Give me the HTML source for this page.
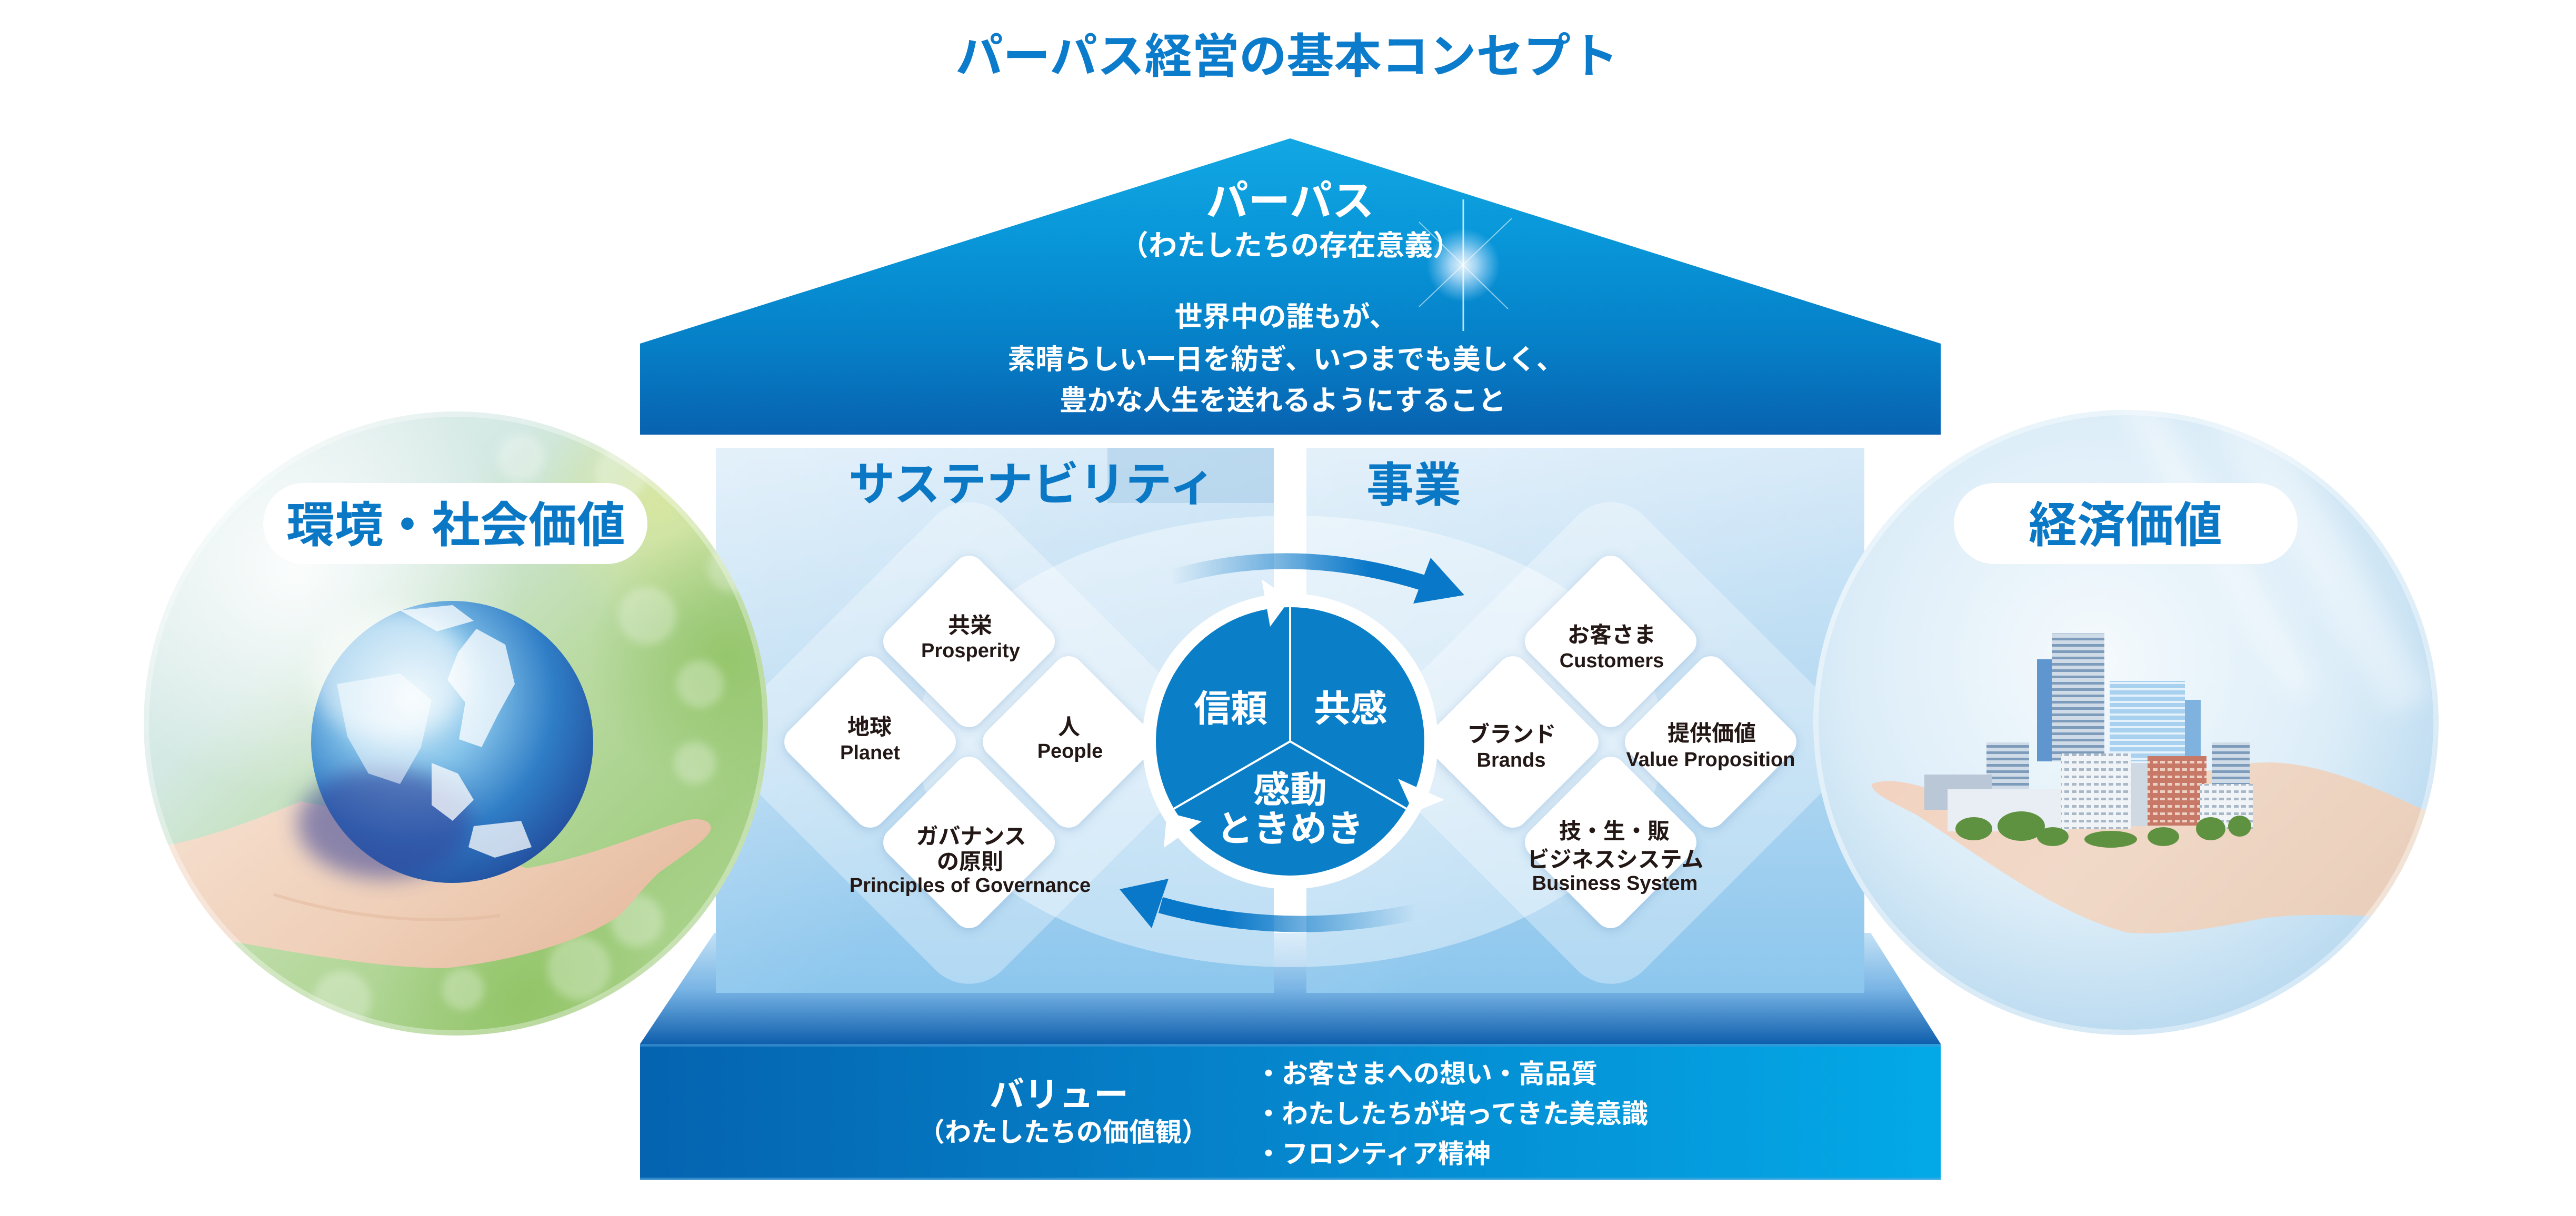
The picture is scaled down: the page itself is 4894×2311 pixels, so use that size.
<!DOCTYPE html>
<html><head><meta charset="utf-8">
<style>
html,body{margin:0;padding:0;background:#fff;}
svg{display:block;}
text{font-family:'Liberation Sans','Noto Sans CJK JP',sans-serif;font-weight:700;}
</style></head><body>
<svg width="4894" height="2311" viewBox="0 0 4894 2311" xmlns="http://www.w3.org/2000/svg">
<defs>
 <linearGradient id="roof" x1="0" y1="263" x2="0" y2="826" gradientUnits="userSpaceOnUse">
  <stop offset="0" stop-color="#12a7e4"/><stop offset="0.35" stop-color="#0896d8"/>
  <stop offset="0.7" stop-color="#067fc7"/><stop offset="1" stop-color="#0862b0"/>
 </linearGradient>
 <linearGradient id="panel" x1="0" y1="851" x2="0" y2="1887" gradientUnits="userSpaceOnUse">
  <stop offset="0" stop-color="#d5e9f8"/><stop offset="0.5" stop-color="#b5d9f2"/><stop offset="1" stop-color="#8cc6ed"/>
 </linearGradient>
 <linearGradient id="pglow" x1="0" y1="0" x2="1" y2="1">
  <stop offset="0" stop-color="#fff" stop-opacity="0.35"/><stop offset="0.6" stop-color="#fff" stop-opacity="0"/>
 </linearGradient>
 <linearGradient id="trap" x1="0" y1="1773" x2="0" y2="1984" gradientUnits="userSpaceOnUse">
  <stop offset="0" stop-color="#c4e2f6"/><stop offset="0.5" stop-color="#7ab5e5"/><stop offset="1" stop-color="#0f5fad"/>
 </linearGradient>
 <linearGradient id="band" x1="1216" y1="0" x2="3687" y2="0" gradientUnits="userSpaceOnUse">
  <stop offset="0" stop-color="#0563b0"/><stop offset="0.5" stop-color="#0586cd"/><stop offset="1" stop-color="#03a9e7"/>
 </linearGradient>
 <linearGradient id="arrTop" x1="2225" y1="0" x2="2600" y2="0" gradientUnits="userSpaceOnUse">
  <stop offset="0" stop-color="#0a78c8" stop-opacity="0"/><stop offset="1" stop-color="#0a78c8" stop-opacity="1"/>
 </linearGradient>
 <linearGradient id="arrBot" x1="2330" y1="0" x2="2690" y2="0" gradientUnits="userSpaceOnUse">
  <stop offset="0" stop-color="#0a78c8" stop-opacity="1"/><stop offset="1" stop-color="#0a78c8" stop-opacity="0"/>
 </linearGradient>
 <radialGradient id="glow">
  <stop offset="0" stop-color="#fff" stop-opacity="1"/><stop offset="0.35" stop-color="#dfefff" stop-opacity="0.8"/>
  <stop offset="1" stop-color="#bfe0ff" stop-opacity="0"/>
 </radialGradient>
 <linearGradient id="lbg" x1="300" y1="800" x2="1400" y2="1950" gradientUnits="userSpaceOnUse">
  <stop offset="0" stop-color="#e6f1f4"/><stop offset="0.3" stop-color="#d4e9e4"/>
  <stop offset="0.55" stop-color="#bbdba4"/><stop offset="0.8" stop-color="#a2ce82"/><stop offset="1" stop-color="#b4d896"/>
 </linearGradient>
 <radialGradient id="wglow"><stop offset="0" stop-color="#fff" stop-opacity="0.9"/><stop offset="1" stop-color="#fff" stop-opacity="0"/></radialGradient>
 <radialGradient id="gglow"><stop offset="0" stop-color="#8fc262" stop-opacity="0.8"/><stop offset="1" stop-color="#8fc262" stop-opacity="0"/></radialGradient>
 <radialGradient id="yglow"><stop offset="0" stop-color="#dbe89e" stop-opacity="0.85"/><stop offset="1" stop-color="#dbe89e" stop-opacity="0"/></radialGradient>
 <radialGradient id="globeG" cx="0.36" cy="0.34" r="0.72">
  <stop offset="0" stop-color="#e2f3fb"/><stop offset="0.35" stop-color="#86c4ea"/>
  <stop offset="0.7" stop-color="#2f7dc6"/><stop offset="1" stop-color="#23509f"/>
 </radialGradient>
 <linearGradient id="skinL" x1="0" y1="0" x2="1" y2="0.4">
  <stop offset="0" stop-color="#f6e0d0"/><stop offset="0.6" stop-color="#efcfb8"/><stop offset="1" stop-color="#e6bda2"/>
 </linearGradient>
 <linearGradient id="skinR" x1="0" y1="0" x2="1" y2="0.3">
  <stop offset="0" stop-color="#f2d2c0"/><stop offset="0.5" stop-color="#f1d9c8"/><stop offset="1" stop-color="#ead0bc"/>
 </linearGradient>
 <radialGradient id="rbg" cx="0.45" cy="0.4" r="0.65">
  <stop offset="0" stop-color="#f5fafd"/><stop offset="0.6" stop-color="#dcedf8"/><stop offset="1" stop-color="#b3d6ee"/>
 </radialGradient>
 <pattern id="win" width="12" height="12" patternUnits="userSpaceOnUse">
  <rect width="12" height="12" fill="#cfdbe7"/><rect width="12" height="5" fill="#7d9cbb"/>
 </pattern>
 <pattern id="winW" width="14" height="14" patternUnits="userSpaceOnUse">
  <rect width="14" height="14" fill="#f1f4f7"/><rect x="2" y="4" width="9" height="5" fill="#a9b8c8"/>
 </pattern>
 <pattern id="winR" width="14" height="14" patternUnits="userSpaceOnUse">
  <rect width="14" height="14" fill="#c77866"/><rect x="2" y="4" width="9" height="5" fill="#ecd0c4"/>
 </pattern>
 <pattern id="winG" width="12" height="12" patternUnits="userSpaceOnUse">
  <rect width="12" height="12" fill="#a8d0ef"/><rect width="12" height="4" fill="#e6f2fb"/>
 </pattern>
 <filter id="blur20" x="-50%" y="-50%" width="200%" height="200%"><feGaussianBlur stdDeviation="20"/></filter>
 <filter id="blur8" x="-50%" y="-50%" width="200%" height="200%"><feGaussianBlur stdDeviation="8"/></filter>
 <filter id="blur3" x="-50%" y="-50%" width="200%" height="200%"><feGaussianBlur stdDeviation="3"/></filter>
 <filter id="dsh" x="-30%" y="-30%" width="160%" height="160%">
  <feDropShadow dx="0" dy="4" stdDeviation="9" flood-color="#4f86bb" flood-opacity="0.3"/>
 </filter>
 <clipPath id="cpL"><rect x="1360" y="851" width="1060" height="1036"/></clipPath>
 <clipPath id="cpR"><rect x="2482" y="851" width="1060" height="1036"/></clipPath>
 <clipPath id="ccL"><circle cx="866" cy="1375" r="593"/></clipPath>
 <clipPath id="ccR"><circle cx="4039" cy="1373" r="594"/></clipPath>
</defs>

<!-- Title -->
<text x="2445" y="138" font-size="90" fill="#0b7bcb" text-anchor="middle">パーパス経営の基本コンセプト</text>

<!-- Roof / Purpose band -->
<polygon points="2451,263 3687,653 3687,826 1216,826 1216,653" fill="url(#roof)"/>
<g transform="translate(2780,504)">
 <circle r="70" fill="url(#glow)" opacity="0.9"/>
 <line x1="0" y1="-125" x2="0" y2="125" stroke="#fff" stroke-width="3" opacity="0.75"/>
 <line x1="-85" y1="0" x2="85" y2="0" stroke="#fff" stroke-width="7" opacity="0.55" filter="url(#blur3)"/>
 <line x1="-84" y1="-82" x2="85" y2="83" stroke="#fff" stroke-width="2" opacity="0.55"/>
 <line x1="92" y1="-89" x2="-84" y2="79" stroke="#fff" stroke-width="2" opacity="0.55"/>
</g>
<text x="2451" y="410" font-size="80" fill="#fff" text-anchor="middle">パーパス</text>
<text x="2452" y="485" font-size="54" fill="#fff" text-anchor="middle">（わたしたちの存在意義）</text>
<text x="2443" y="620" font-size="53" fill="#fff" text-anchor="middle">世界中の誰もが、</text>
<text x="2443" y="701" font-size="53" fill="#fff" text-anchor="middle">素晴らしい一日を紡ぎ、いつまでも美しく、</text>
<text x="2437" y="779" font-size="53" fill="#fff" text-anchor="middle">豊かな人生を送れるようにすること</text>

<!-- base trapezoid and value band -->
<polygon points="1357,1773 3554,1773 3687,1984 1216,1984" fill="url(#trap)"/>
<rect x="1216" y="1984" width="2471" height="258" fill="url(#band)"/>
<rect x="1216" y="1984" width="2471" height="5" fill="#4a98d6" opacity="0.6"/>
<rect x="1216" y="2238" width="2471" height="4" fill="#5aa9e0" opacity="0.5"/>

<!-- panels -->
<rect x="1360" y="851" width="1060" height="1036" fill="url(#panel)"/>
<rect x="2482" y="851" width="1060" height="1036" fill="url(#panel)"/>
<rect x="1360" y="851" width="1060" height="1036" fill="url(#pglow)"/>
<rect x="2482" y="851" width="1060" height="1036" fill="url(#pglow)"/>
<rect x="2104" y="851" width="316" height="105" fill="#a9cde8" opacity="0.6"/>

<!-- big translucent diamonds -->
<g clip-path="url(#cpL)"><rect x="-350" y="-350" width="700" height="700" rx="90" transform="translate(1841 1412) rotate(45)" fill="#fff" opacity="0.32"/></g>
<g clip-path="url(#cpR)"><rect x="-350" y="-350" width="700" height="700" rx="90" transform="translate(3060 1412) rotate(45)" fill="#fff" opacity="0.32"/></g>

<!-- central ellipse -->
<ellipse cx="2451" cy="1409" rx="710" ry="429" fill="#fff" opacity="0.4"/>

<!-- small diamonds -->
<g fill="#fff" filter="url(#dsh)">
 <rect x="-124" y="-124" width="248" height="248" rx="30" transform="translate(1841 1219) rotate(45)"/>
 <rect x="-124" y="-124" width="248" height="248" rx="30" transform="translate(1653 1410) rotate(45)"/>
 <rect x="-124" y="-124" width="248" height="248" rx="30" transform="translate(2030 1410) rotate(45)"/>
 <rect x="-124" y="-124" width="248" height="248" rx="30" transform="translate(1841 1601) rotate(45)"/>
 <rect x="-124" y="-124" width="248" height="248" rx="30" transform="translate(3060 1219) rotate(45)"/>
 <rect x="-124" y="-124" width="248" height="248" rx="30" transform="translate(2874 1410) rotate(45)"/>
 <rect x="-124" y="-124" width="248" height="248" rx="30" transform="translate(3250 1410) rotate(45)"/>
 <rect x="-124" y="-124" width="248" height="248" rx="30" transform="translate(3060 1601) rotate(45)"/>
</g>

<!-- curved arrows -->
<path d="M 2225 1098 Q 2455 1030 2705 1108" fill="none" stroke="url(#arrTop)" stroke-width="30"/>
<polygon points="2718,1060 2782,1131 2685,1147" fill="#0a78c8"/>
<path d="M 2690 1733 Q 2440 1785 2205 1720" fill="none" stroke="url(#arrBot)" stroke-width="31"/>
<polygon points="2127,1690 2220,1670 2188,1764" fill="#0a78c8"/>

<!-- center circle -->
<circle cx="2451" cy="1409" r="281" fill="#fff"/>
<circle cx="2451" cy="1409" r="255" fill="#0a7fc8"/>
<g stroke="#fff" stroke-width="4">
 <line x1="2451" y1="1409" x2="2451" y2="1154"/>
 <line x1="2451" y1="1409" x2="2672" y2="1537"/>
 <line x1="2451" y1="1409" x2="2230" y2="1537"/>
</g>
<g fill="#fff">
 <polygon points="2451,1139 2397,1101 2413,1191"/>
 <polygon points="2685,1544 2744,1520 2656,1480"/>
 <polygon points="2217,1544 2211,1611 2283,1561"/>
</g>
<text x="2338" y="1371" font-size="70" fill="#fff" text-anchor="middle">信頼</text>
<text x="2566" y="1371" font-size="70" fill="#fff" text-anchor="middle">共感</text>
<text x="2451" y="1525" font-size="70" fill="#fff" text-anchor="middle">感動</text>
<text x="2451" y="1599" font-size="70" fill="#fff" text-anchor="middle">ときめき</text>

<!-- panel labels -->
<text x="1612" y="951" font-size="88" fill="#0b78c6">サステナビリティ</text>
<text x="2596" y="953" font-size="90" fill="#0b78c6">事業</text>

<!-- diamond labels -->
<g fill="#231815" text-anchor="middle">
 <text x="1843" y="1203" font-size="42">共栄</text>
 <text x="1844" y="1249" font-size="38">Prosperity</text>
 <text x="1652" y="1396" font-size="42">地球</text>
 <text x="1653" y="1443" font-size="38">Planet</text>
 <text x="2031" y="1396" font-size="42">人</text>
 <text x="2033" y="1440" font-size="38">People</text>
 <text x="1845" y="1604" font-size="42">ガバナンス</text>
 <text x="1843" y="1652" font-size="42">の原則</text>
 <text x="1843" y="1695" font-size="38">Principles of Governance</text>
 <text x="3062" y="1221" font-size="42">お客さま</text>
 <text x="3062" y="1268" font-size="38">Customers</text>
 <text x="2872" y="1410" font-size="42">ブランド</text>
 <text x="2871" y="1457" font-size="38">Brands</text>
 <text x="3252" y="1408" font-size="42">提供価値</text>
 <text x="3250" y="1456" font-size="38">Value Proposition</text>
 <text x="3067" y="1594" font-size="42">技・生・販</text>
 <text x="3069" y="1648" font-size="42">ビジネスシステム</text>
 <text x="3068" y="1691" font-size="38">Business System</text>
</g>

<!-- value band text -->
<text x="2012" y="2103" font-size="66" fill="#fff" text-anchor="middle">バリュー</text>
<text x="2020" y="2169" font-size="50" fill="#fff" text-anchor="middle">（わたしたちの価値観）</text>
<text x="2385" y="2058" font-size="50" fill="#fff">・お客さまへの想い・高品質</text>
<text x="2385" y="2134" font-size="50" fill="#fff">・わたしたちが培ってきた美意識</text>
<text x="2385" y="2210" font-size="50" fill="#fff">・フロンティア精神</text>

<!-- LEFT CIRCLE (environment) -->
<g clip-path="url(#ccL)">
 <rect x="270" y="780" width="1200" height="1200" fill="url(#lbg)"/>
 <circle cx="560" cy="1080" r="430" fill="url(#wglow)"/>
 <circle cx="1250" cy="960" r="230" fill="url(#yglow)"/>
 <circle cx="1380" cy="1250" r="260" fill="url(#gglow)"/>
 <circle cx="1000" cy="1900" r="280" fill="url(#gglow)"/>
 <g fill="#fff" opacity="0.28" filter="url(#blur8)">
  <circle cx="1230" cy="1170" r="55"/><circle cx="1330" cy="1300" r="45"/><circle cx="1100" cy="1840" r="60"/>
  <circle cx="1210" cy="1750" r="50"/><circle cx="650" cy="1900" r="55"/><circle cx="990" cy="870" r="45"/>
  <circle cx="1180" cy="900" r="50"/><circle cx="1320" cy="1450" r="40"/><circle cx="880" cy="1880" r="40"/>
  <circle cx="1390" cy="1080" r="45"/>
 </g>
 <!-- hand -->
 <path d="M 280 1612 C 380 1600 480 1560 571 1523 L 760 1560 L 1000 1650 C 1120 1630 1230 1580 1300 1560 C 1330 1552 1355 1560 1350 1578 C 1340 1600 1290 1630 1250 1660 C 1210 1700 1190 1730 1173 1743 C 1100 1790 980 1825 847 1840 C 720 1840 560 1810 439 1789 C 380 1760 330 1720 280 1700 Z" fill="url(#skinL)"/>
 <path d="M 520 1700 C 650 1740 800 1760 950 1740" fill="none" stroke="#e2b89c" stroke-width="6" opacity="0.5"/>
 <!-- globe -->
 <circle cx="859" cy="1410" r="268" fill="url(#globeG)"/>
 <ellipse cx="730" cy="1565" rx="165" ry="105" fill="#343f96" opacity="0.55" filter="url(#blur20)"/>
 <g fill="#fff" opacity="0.75">
  <path d="M 905 1195 L 960 1225 L 978 1300 L 945 1360 L 915 1420 L 872 1405 L 884 1335 L 850 1292 L 870 1240 Z"/>
  <path d="M 640 1300 L 760 1280 L 820 1330 L 800 1420 L 760 1490 L 700 1470 L 660 1400 Z" opacity="0.7"/>
  <path d="M 820 1450 L 870 1470 L 900 1520 L 860 1560 L 820 1530 Z"/>
  <path d="M 900 1570 L 990 1560 L 1010 1610 L 940 1630 L 890 1610 Z"/>
  <path d="M 760 1160 L 860 1150 L 900 1180 L 830 1200 Z"/>
 </g>
 <ellipse cx="740" cy="1280" rx="150" ry="125" fill="#fff" opacity="0.5" filter="url(#blur20)"/>
 <circle cx="866" cy="1375" r="593" fill="none" stroke="#fff" stroke-opacity="0.35" stroke-width="20"/>
</g>

<!-- RIGHT CIRCLE (economic) -->
<g clip-path="url(#ccR)">
 <rect x="3440" y="775" width="1200" height="1200" fill="url(#rbg)"/>
 <g fill="#fff" opacity="0.35" filter="url(#blur20)">
  <polygon points="4180,760 4300,760 4620,1320 4540,1360"/>
  <polygon points="4380,760 4460,760 4680,1150 4640,1190"/>
  <polygon points="4020,760 4090,760 4400,1300 4350,1330"/>
 </g>
 <path d="M 3556 1490 C 3600 1472 3680 1500 3760 1540 L 4280 1450 C 4400 1440 4520 1500 4650 1560 L 4650 1750 C 4520 1742 4400 1732 4300 1745 C 4180 1770 4100 1778 4040 1772 C 3900 1735 3760 1625 3640 1548 C 3590 1522 3556 1508 3556 1490 Z" fill="url(#skinR)"/>
 <rect x="3870" y="1253" width="36" height="194" fill="#5f96cf"/>
 <rect x="3898" y="1204" width="100" height="243" fill="url(#win)"/>
 <rect x="4008" y="1294" width="143" height="153" fill="url(#winG)"/>
 <rect x="4151" y="1330" width="30" height="117" fill="#7fb2df"/>
 <rect x="3774" y="1411" width="81" height="97" fill="url(#win)"/>
 <rect x="3656" y="1472" width="128" height="67" fill="#b9c7d6"/>
 <rect x="3700" y="1500" width="230" height="80" fill="#e9eef4"/>
 <rect x="3916" y="1432" width="133" height="143" fill="url(#winW)"/>
 <rect x="4049" y="1450" width="35" height="120" fill="#cfd9e3"/>
 <rect x="4080" y="1437" width="112" height="132" fill="url(#winR)"/>
 <rect x="4202" y="1411" width="72" height="148" fill="url(#win)"/>
 <rect x="4180" y="1490" width="100" height="85" fill="url(#winW)"/>
 <g fill="#5f9240">
  <ellipse cx="3750" cy="1575" rx="35" ry="22"/><ellipse cx="3840" cy="1570" rx="45" ry="28"/>
  <ellipse cx="3900" cy="1590" rx="30" ry="18"/><ellipse cx="4010" cy="1595" rx="50" ry="16"/>
  <ellipse cx="4110" cy="1590" rx="30" ry="18"/><ellipse cx="4200" cy="1575" rx="28" ry="22"/>
  <ellipse cx="4255" cy="1570" rx="22" ry="20"/>
 </g>
 <circle cx="4039" cy="1373" r="594" fill="none" stroke="#fff" stroke-opacity="0.4" stroke-width="20"/>
</g>

<!-- pills -->
<rect x="500" y="918" width="730" height="154" rx="77" fill="#fff"/>
<text x="866" y="1030" font-size="92" fill="#0b78c6" text-anchor="middle">環境・社会価値</text>
<rect x="3712" y="918" width="653" height="154" rx="77" fill="#fff"/>
<text x="4038" y="1030" font-size="92" fill="#0b78c6" text-anchor="middle">経済価値</text>
</svg>
</body></html>
